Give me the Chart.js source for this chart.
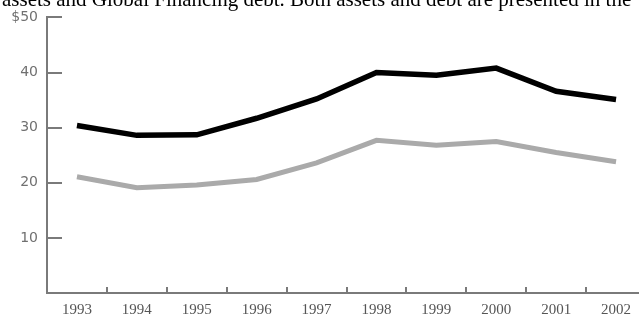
<!DOCTYPE html>
<html>
<head>
<meta charset="utf-8">
<script src="https://cdn.jsdelivr.net/npm/chart.js@4"></script>
<style>
  html, body { margin: 0; padding: 0; background: #fff; overflow: hidden; }
  #caja { position: relative; width: 646px; height: 328px; }
  #texto {
    position: absolute; left: 2px; top: -11px;
    font: 21px "Liberation Serif", serif; line-height: 21px;
    color: #000; white-space: nowrap;
  }
</style>
</head>
<body>
<div id="caja">
  <canvas id="grafico" width="646" height="328"></canvas>
  <div id="texto">assets and Global Financing debt. Both assets and debt are presented in the</div>
</div>
<script>
const anios = ['1993', '1994', '1995', '1996', '1997', '1998', '1999', '2000', '2001', '2002'];
const activos = [30.4, 28.6, 28.7, 31.7, 35.2, 40.0, 39.5, 40.8, 36.6, 35.1];
const deuda = [21.1, 19.1, 19.6, 20.6, 23.6, 27.7, 26.8, 27.5, 25.5, 23.8];
const marcasY = [10, 20, 30, 40, 50];

const gris = '#7a7a7a';

// marcas cortas hacia dentro del area
const marcas = {
  id: 'marcas',
  afterDraw(chart) {
    const ctx = chart.ctx;
    const x = chart.scales.x, y = chart.scales.y;
    const area = chart.chartArea;
    ctx.save();
    ctx.strokeStyle = gris;
    ctx.lineWidth = 2;
    ctx.beginPath();
    marcasY.forEach(v => {
      const py = Math.round(y.getPixelForValue(v));
      ctx.moveTo(area.left, py);
      ctx.lineTo(area.left + 15, py);
    });
    for (let i = 1; i < anios.length; i++) {
      const px = Math.round((x.getPixelForTick(i - 1) + x.getPixelForTick(i)) / 2);
      ctx.moveTo(px, area.bottom);
      ctx.lineTo(px, area.bottom - 6);
    }
    ctx.stroke();
    ctx.restore();
  }
};

new Chart(document.getElementById('grafico'), {
  type: 'line',
  data: {
    labels: anios,
    datasets: [
      { label: 'Activos', data: activos, borderColor: '#000', borderWidth: 5.5, pointRadius: 0, tension: 0 },
      { label: 'Deuda', data: deuda, borderColor: '#aaaaaa', borderWidth: 5, pointRadius: 0, tension: 0 }
    ]
  },
  options: {
    responsive: false,
    animation: false,
    layout: { padding: { top: 14, left: 0, right: 0, bottom: 0 } },
    plugins: { legend: { display: false }, tooltip: { enabled: false } },
    scales: {
      x: {
        offset: true,
        afterFit: s => { s.height = 35; },
        grid: { display: false, drawTicks: false },
        border: { display: true, color: gris, width: 2 },
        ticks: { color: '#555', padding: 8, maxRotation: 0, font: { family: 'Liberation Serif', size: 15 } }
      },
      y: {
        min: 0, max: 50,
        afterFit: s => { s.width = 47; },
        grid: { display: false, drawTicks: false },
        border: { display: true, color: gris, width: 2 },
        ticks: {
          stepSize: 10, padding: 9, color: '#707070',
          font: { family: 'DejaVu Sans', size: 14 },
          callback: v => v === 0 ? '' : (v === 50 ? '$50' : v)
        }
      }
    }
  },
  plugins: [marcas]
});
</script>
</body>
</html>
